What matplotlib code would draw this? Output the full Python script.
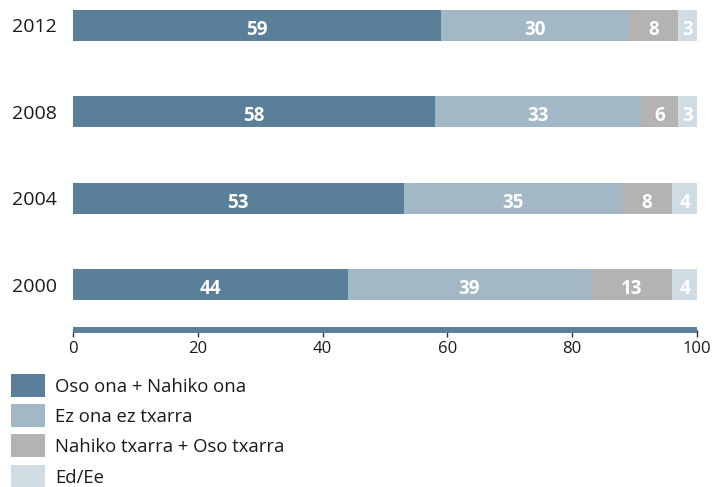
import matplotlib
matplotlib.use("Agg")
import matplotlib.pyplot as plt
from matplotlib.patches import Rectangle
from matplotlib import font_manager

years = ["2000", "2004", "2008", "2012"]
series_names = ["Oso ona + Nahiko ona", "Ez ona ez txarra", "Nahiko txarra + Oso txarra", "Ed/Ee"]
good = [44, 53, 58, 59]
neutral = [39, 35, 33, 30]
bad = [13, 8, 6, 8]
dk = [4, 4, 3, 3]
colors = ["#5a8099", "#a2b8c6", "#b3b3b3", "#cfdce4"]
xticks = [0, 20, 40, 60, 80, 100]

names = {f.name for f in font_manager.fontManager.ttflist}
prefs = ["Open Sans", "Noto Sans", "Roboto"]
fam = next((p for p in prefs if p in names), "DejaVu Sans")
plt.rcParams["font.family"] = [fam, "DejaVu Sans"]

W, H = 712, 487
fig = plt.figure(figsize=(W/100, H/100), dpi=100)
ax = fig.add_axes([73/W, (H-330)/H, (697-73)/W, 330/H])

ypos = list(range(len(years)))
left = [0]*len(years)
for vals, col in zip([good, neutral, bad, dk], colors):
    ax.barh(ypos, vals, left=left, height=0.36, color=col, edgecolor="none")
    for y, v, l in zip(ypos, vals, left):
        ax.text(l + v/2, y - 0.11, str(v), ha="center", va="baseline",
                color="white", fontsize=13.5, fontweight="bold")
    left = [a + b for a, b in zip(left, vals)]

ax.set_xlim(0, 100)
ax.set_ylim(-0.526, 3.295)
ax.set_yticks(ypos)
ax.set_yticklabels(years, fontsize=14, color="#1a1a1a")
ax.tick_params(axis="y", length=0, pad=11.5)
ax.set_xticks(xticks)
ax.set_xticklabels([str(t) for t in xticks], fontsize=12, color="#1a1a1a")
ax.tick_params(axis="x", length=5, width=1, color="#333333", pad=3, direction="out")
for s in ["top", "right", "left"]:
    ax.spines[s].set_visible(False)
ax.spines["bottom"].set_color("#5a8099")
ax.spines["bottom"].set_linewidth(4.3)
ax.spines["bottom"].set_capstyle("butt")

# legend (manual, pixel-placed)
for i, (name, col) in enumerate(zip(series_names, colors)):
    top = 373.5 + 30.4 * i
    fig.patches.append(Rectangle((11/W, 1 - (top + 23)/H), 34/W, 23/H,
                                 transform=fig.transFigure, facecolor=col,
                                 edgecolor="none", figure=fig))
    fig.text(55/W, 1 - (top + 11)/H, name, ha="left", va="center_baseline",
             fontsize=13.3, color="#1a1a1a")

fig.savefig("out.png", dpi=100)
